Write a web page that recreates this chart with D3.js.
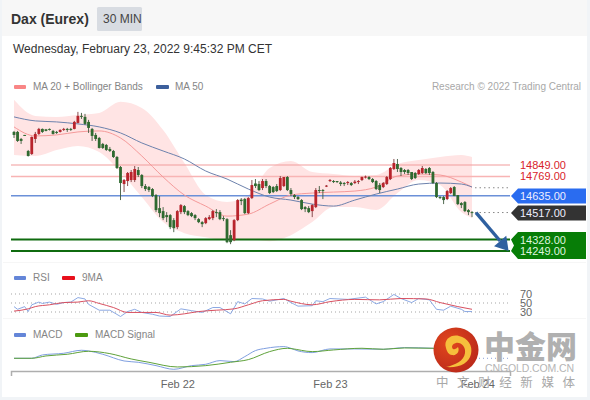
<!DOCTYPE html>
<html><head><meta charset="utf-8">
<script src="https://cdn.jsdelivr.net/npm/d3@7/dist/d3.min.js"></script>
<style>html,body{margin:0;padding:0;background:#fff}svg{display:block}text{font-family:"Liberation Sans",Arial,sans-serif}</style>
</head><body><svg id="c" width="590" height="400"></svg>
<script>
const title="Dax (Eurex)", interval="30 MIN", stamp="Wednesday, February 23, 2022 9:45:32 PM CET", credit="Research © 2022 Trading Central";
const open=[15080,15080,15031,15059,14947,14926,15031,15066,15101,15098,15101,15087,15080,15080,15094,15101,15101,15101,15143,15192,15185,15150,15101,15059,15038,14996,14989,14961,14947,14905,14835,14716,14737,14744,14744,14814,14779,14702,14695,14681,14639,14548,14527,14499,14499,14464,14415,14520,14562,14527,14513,14499,14471,14450,14443,14471,14478,14520,14520,14478,14471,14359,14324,14464,14607,14611,14513,14618,14720,14716,14688,14737,14702,14695,14702,14674,14702,14765,14674,14639,14625,14604,14555,14548,14527,14555,14674,14674,14702,14737,14737,14737,14727,14723,14723,14723,14723,14730,14744,14761,14765,14751,14737,14709,14695,14716,14751,14821,14856,14828,14814,14814,14800,14793,14786,14793,14821,14828,14800,14723,14625,14625,14611,14653,14695,14639,14583,14590,14534,14520];
const high=[15087,15087,15038,15059,14954,15048,15080,15108,15104,15101,15104,15094,15087,15098,15108,15108,15108,15157,15220,15213,15206,15164,15108,15073,15045,15003,14996,14975,14954,14912,14842,14751,14800,14814,14842,14835,14786,14716,14702,14688,14646,14632,14555,14520,14506,14478,14534,14576,14569,14534,14520,14506,14478,14457,14485,14499,14534,14541,14534,14492,14478,14394,14471,14611,14618,14618,14625,14744,14751,14737,14751,14751,14709,14702,14716,14772,14765,14772,14688,14646,14632,14611,14562,14562,14576,14688,14702,14681,14709,14751,14744,14737,14737,14730,14737,14730,14744,14744,14768,14775,14772,14758,14744,14723,14730,14772,14835,14891,14891,14835,14821,14821,14800,14800,14821,14842,14828,14835,14807,14730,14632,14632,14674,14695,14702,14639,14590,14597,14541,14527];
const low=[15038,15010,14996,15052,14908,14919,15003,15059,15073,15084,15090,15062,15066,15076,15087,15080,15087,15098,15140,15171,15129,15073,15017,15017,14964,14961,14947,14940,14898,14821,14604,14660,14702,14730,14730,14765,14688,14667,14660,14625,14520,14485,14464,14450,14401,14380,14401,14506,14506,14492,14485,14464,14443,14415,14436,14464,14464,14485,14464,14457,14303,14296,14317,14457,14569,14506,14506,14611,14688,14667,14674,14688,14646,14653,14660,14667,14695,14667,14632,14611,14604,14534,14520,14513,14485,14548,14653,14611,14695,14730,14723,14723,14702,14702,14709,14702,14716,14716,14737,14755,14744,14723,14674,14653,14688,14709,14744,14814,14800,14772,14786,14779,14744,14751,14779,14786,14786,14779,14716,14618,14611,14576,14604,14646,14632,14569,14548,14520,14499,14485];
const close=[15059,15017,15017,15056,14912,15045,15066,15101,15080,15087,15094,15066,15073,15094,15101,15094,15094,15150,15192,15185,15136,15108,15052,15031,14968,14968,14954,14947,14905,14828,14723,14744,14793,14800,14821,14779,14702,14681,14674,14632,14534,14513,14478,14485,14415,14408,14527,14569,14520,14499,14492,14478,14450,14436,14478,14485,14527,14513,14471,14471,14310,14310,14464,14604,14597,14513,14618,14709,14702,14674,14737,14702,14653,14660,14667,14758,14765,14674,14646,14625,14611,14541,14541,14520,14569,14674,14667,14667,14705,14744,14730,14730,14716,14716,14730,14709,14733,14737,14765,14768,14751,14730,14681,14674,14723,14765,14828,14863,14821,14800,14800,14793,14751,14758,14814,14828,14793,14793,14723,14625,14618,14604,14667,14688,14632,14576,14569,14527,14520,14517];
const bandIdx=[0,6,12,18,24,30,36,42,48,54,60,66,72,78,84,90,96,102,108,114,120,126,129];
const bbUpper=[15304,15192,15185,15199,15213,15290,15248,15094,14863,14639,14590,14639,14828,14877,14800,14786,14772,14779,14856,14884,14905,14919,14905];
const bbLower=[14919,14912,14954,14982,14940,14800,14625,14450,14373,14345,14324,14331,14317,14359,14450,14555,14555,14534,14653,14744,14709,14520,14478];
const ma20=[15115,15052,15059,15080,15087,15038,14912,14765,14639,14562,14492,14506,14576,14639,14653,14660,14667,14695,14772,14786,14779,14730,14695];
const ma50=[15185,15157,15150,15136,15115,15073,15003,14947,14891,14807,14751,14681,14625,14604,14576,14562,14604,14646,14681,14716,14723,14716,14695];
const rsiIdx=[0,1,3,4,5,7,8,10,12,14,16,18,20,21,24,27,30,32,34,36,39,41,44,47,50,53,56,58,61,63,65,67,70,72,76,78,80,84,85,87,89,94,99,102,104,107,109,112,114,117,119,121,123,126,127,129];
const rsi=[42,36,42,31,46,52,49,52,47,51,52,62,59,47,34,34,20,31,36,29,25,21,20,37,33,29,40,40,26,53,48,60,59,54,60,51,43,44,55,53,60,58,63,48,53,69,60,51,60,57,36,34,43,36,31,31];
const sigIdx=[0,4,6,10,14,18,21,24,28,32,36,40,44,48,52,57,62,66,70,76,78,84,89,96,103,109,116,120,125,129];
const rsiMA=[32,37,42,46,51,52,55,49,40,29,29,29,23,26,31,34,37,46,55,58,54,46,53,58,57,60,59,51,42,36];
const macdIdx=[0,5,8,14,19,21,25,31,35,40,45,50,54,58,62,65,68,71,76,78,80,84,89,96,104,110,118,124,129];
const macd=[0,0,10,15,24,22,12,-8,-12,-22,-33,-22,-18,-7,-10,5,23,30,35,30,22,17,28,28,27,32,30,14,0];
const macdSigIdx=[0,5,9,15,21,27,33,38,46,54,61,66,72,77,78,84,90,98,104,110,118,124,129];
const macdSig=[0,0,7,12,21,14,-2,-12,-26,-22,-12,-4,20,30,29,20,25,30,27,31,30,24,12];
const levelsRed=[14849,14769], levelBlue=14635, levelLast=14517, levelMa=14690, levelsGreen=[14328,14249];
const rsiLevels=[70,50,30];
const dayTicks=[46,89,130.5], dayLabels=["Feb 22","Feb 23","Feb 24"];

const svg=d3.select("#c");
const x=d3.scaleLinear().domain([0,129]).range([14,472]);
const y=d3.scaleLinear().domain([14249,14849]).range([250.9,165]);
const yR=d3.scaleLinear().domain([30,70]).range([312,294]);
const yM=d3.scaleLinear().domain([-33,35]).range([369.3,346.6]);
const L=11,R=510;

svg.append("rect").attr("width",590).attr("height",400).attr("fill","#f1f4f7");
svg.append("rect").attr("x",2).attr("y",0).attr("width",585).attr("height",397).attr("fill","#fff");
svg.append("rect").attr("x",2).attr("y",0).attr("width",585).attr("height",36).attr("fill","#f7f7f7");
svg.append("text").attr("x",11).attr("y",24).attr("font-size",14).attr("font-weight","bold").attr("fill","#333").text(title);
svg.append("rect").attr("x",97).attr("y",7).attr("width",45).attr("height",24).attr("rx",1.5).attr("fill","#d8dce2");
svg.append("text").attr("x",103).attr("y",23).attr("font-size",12).attr("fill","#444").text(interval);
svg.append("text").attr("x",13).attr("y",53).attr("font-size",12).attr("fill","#333").text(stamp);

function legend(sx,sw,col,tx,ty,label,fs){
 svg.append("rect").attr("x",sx).attr("y",ty-5).attr("width",sw).attr("height",4).attr("rx",1).attr("fill",col);
 svg.append("text").attr("x",tx).attr("y",ty).attr("font-size",fs||10).attr("fill","#858585").text(label);
}
legend(14,12,"#f98686",33,90,"MA 20 + Bollinger Bands");
legend(156,13,"#3c5f9c",175,90,"MA 50");
svg.append("text").attr("x",581).attr("y",90).attr("text-anchor","end").attr("font-size",10).attr("fill","#a8a8a8").text(credit);
legend(14,12,"#6486d8",33,281,"RSI");
legend(62,13,"#e8101c",82,281,"9MA");
legend(14,12,"#6486d8",33,338,"MACD");
legend(75,13,"#4c9a10",95,338,"MACD Signal");

[262.5,318.5].forEach(v=>svg.append("line").attr("x1",3).attr("x2",586).attr("y1",v).attr("y2",v).attr("stroke","#f6f6f6"));

const pts=a=>bandIdx.map((b,i)=>[b,a[i]]);
svg.append("path").attr("fill","#ffe4e4")
 .attr("d",d3.area().x((d,i)=>x(bandIdx[i])).y0((d,i)=>y(bbLower[i])).y1((d,i)=>y(bbUpper[i])).curve(d3.curveMonotoneX)(bandIdx));
levelsRed.forEach((l,i)=>svg.append("line").attr("x1",L).attr("x2",R).attr("y1",y(l)).attr("y2",y(l)).attr("stroke",i?"#f8b4b4":"#f19c9c").attr("stroke-width",i?1.5:1.2));
svg.append("line").attr("x1",L).attr("x2",R).attr("y1",y(levelBlue)).attr("y2",y(levelBlue)).attr("stroke","#6b90d8").attr("stroke-width",1.5);
levelsGreen.forEach(l=>svg.append("line").attr("x1",L).attr("x2",R).attr("y1",y(l)).attr("y2",y(l)).attr("stroke","#0f6b0f").attr("stroke-width",2));
[levelLast,levelMa].forEach(l=>svg.append("line").attr("x1",x(129)+3).attr("x2",R).attr("y1",y(l)).attr("y2",y(l)).attr("stroke","#888").attr("stroke-dasharray","1.5 3"));
const ln=d3.line().x(d=>x(d[0])).y(d=>y(d[1])).curve(d3.curveMonotoneX);
svg.append("path").attr("d",ln(pts(ma20))).attr("fill","none").attr("stroke","#f59a9a").attr("stroke-width",1);
svg.append("path").attr("d",ln(pts(ma50))).attr("fill","none").attr("stroke","#6d82ad").attr("stroke-width",1);
const upC="#b8242c",dnC="#2f6a30";
const g=svg.append("g");
g.selectAll("line").data(d3.range(open.length)).join("line")
 .attr("x1",i=>x(i)).attr("x2",i=>x(i)).attr("y1",i=>y(high[i])).attr("y2",i=>y(low[i]))
 .attr("stroke",i=>close[i]>=open[i]?"#7a3a3c":"#3f5a40").attr("stroke-width",0.9);
g.selectAll("rect").data(d3.range(open.length)).join("rect")
 .attr("x",i=>x(i)-1.4).attr("width",2.8)
 .attr("y",i=>y(Math.max(open[i],close[i])))
 .attr("height",i=>Math.max(1,Math.abs(y(open[i])-y(close[i]))))
 .attr("fill",i=>close[i]>=open[i]?upC:dnC);

const ax0=x(129)+4, ay0=y(levelLast), ax1=x(139.3), ay1=y(levelsGreen[1]);
const ang=Math.atan2(ay1-ay0,ax1-ax0);
const bx=ax1-13*Math.cos(ang), by=ay1-13*Math.sin(ang);
svg.append("line").attr("x1",ax0).attr("y1",ay0).attr("x2",bx).attr("y2",by).attr("stroke","#2f60a0").attr("stroke-width",3.4);
svg.append("path").attr("fill","#2f60a0").attr("d",d3.line()([[ax1,ay1],[bx+8*Math.sin(ang),by-8*Math.cos(ang)],[bx-8*Math.sin(ang),by+8*Math.cos(ang)]])+"Z");

levelsRed.forEach(l=>svg.append("text").attr("x",520).attr("y",y(l)+4).attr("font-size",11).attr("fill","#d8232a").text(l.toFixed(2)));
function badge(top,bot,col){
 const m=(top+bot)/2;
 svg.append("path").attr("fill",col).attr("d",d3.line()([[518,top],[586,top],[586,bot],[518,bot],[511,m]])+"Z");
}
badge(188.5,203.5,"#2a6cf0"); badge(205.5,220.5,"#333333");
const gt=y(levelsGreen[0])-7.5,gb=y(levelsGreen[1])+8;
svg.append("path").attr("fill","#077d07").attr("d",d3.line()([[518,gt],[586,gt],[586,gb],[518,gb],[511,y(levelsGreen[1])],[514,(gt+gb)/2],[511,y(levelsGreen[0])]])+"Z");
[levelBlue,levelLast,...levelsGreen].forEach(l=>svg.append("text").attr("x",520).attr("y",y(l)+4).attr("font-size",11).attr("fill",l===levelBlue||l===levelLast?"#eef":"#dff5df").text(l.toFixed(2)));

rsiLevels.forEach(l=>{
 svg.append("line").attr("x1",L).attr("x2",510).attr("y1",yR(l)).attr("y2",yR(l)).attr("stroke","#a5a5a5").attr("stroke-dasharray","1 3");
 svg.append("text").attr("x",520).attr("y",yR(l)+4).attr("font-size",11).attr("fill","#666").text(l);
});
const lnR=(idx)=>d3.line().x((d,i)=>x(idx[i])).y(d=>yR(d));
svg.append("path").attr("d",lnR(rsiIdx)(rsi)).attr("fill","none").attr("stroke","#7f9fe0").attr("stroke-width",0.9);
svg.append("path").attr("d",lnR(sigIdx).curve(d3.curveMonotoneX)(rsiMA)).attr("fill","none").attr("stroke","#d85060").attr("stroke-width",1);
svg.append("line").attr("x1",x(129)+3).attr("x2",510).attr("y1",yM(0)).attr("y2",yM(0)).attr("stroke","#8aa0d8").attr("stroke-dasharray","1 3");
const lnM=(idx)=>d3.line().x((d,i)=>x(idx[i])).y(d=>yM(d)).curve(d3.curveMonotoneX);
svg.append("path").attr("d",lnM(macdIdx)(macd)).attr("fill","none").attr("stroke","#7f9fe0").attr("stroke-width",1);
svg.append("path").attr("d",lnM(macdSigIdx)(macdSig)).attr("fill","none").attr("stroke","#5fa23a").attr("stroke-width",1);

const ax=d3.axisBottom(x).tickValues(dayTicks).tickFormat((d,i)=>dayLabels[i]).tickSize(0).tickPadding(9);
const ag=svg.append("g").attr("transform","translate(0,371)").call(ax);
ag.select(".domain").remove();
ag.selectAll("text").attr("font-size",11).attr("fill","#666").style("font-family",'"Liberation Sans",Arial,sans-serif');
svg.append("path").attr("d","M11.5,376V371.5H510.5V376").attr("fill","none").attr("stroke","#aeaeae").attr("stroke-width",1.5);

const defs=svg.append("defs");
const grad=defs.append("radialGradient").attr("id","lg").attr("cx","35%").attr("cy","35%").attr("r","75%");
grad.append("stop").attr("offset","0%").attr("stop-color","#e2471d");
grad.append("stop").attr("offset","100%").attr("stop-color","#b9281a");
svg.append("circle").attr("cx",456).attr("cy",350).attr("r",22.5).attr("fill","url(#lg)");
svg.append("path").attr("fill","#f6bf3c").attr("d","M446,348c-3,-9 6,-14 13,-12c9,2 14,10 12,18c-2,9 -11,14 -25,13c9,-2 18,-6 19,-14c1,-6 -4,-11 -9,-10c-4,1 -5,4 -3,6c3,1 5,-2 5,-2c2,4 -1,9 -6,8c-3,0 -5,-3 -6,-7z");
svg.append("text").attr("x",484).attr("y",358).attr("font-size",31).attr("font-weight",900).attr("fill","#b0b0b0").style("font-family",'"Noto Sans CJK SC"').text("中金网");
svg.append("text").attr("x",485).attr("y",372).attr("font-size",10.5).attr("textLength",89).attr("fill","#b5b5b5").text("CNGOLD.COM.CN");
svg.append("text").attr("x",436).attr("y",387).attr("font-size",12.5).attr("textLength",139).attr("fill","#a8a8a8").style("font-family",'"Noto Sans CJK SC"').text("中文财经新媒体");
</script></body></html>
